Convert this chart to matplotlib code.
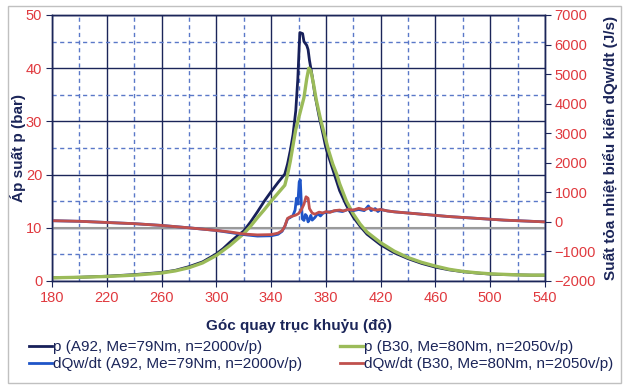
import matplotlib.pyplot as plt
from matplotlib.patches import Rectangle

plt.rcParams['font.family'] = ['Liberation Sans', 'DejaVu Sans']

# crank angle (deg) and pressure (bar)
theta_p_a92 = [180, 200, 220, 240, 260, 270, 280, 290, 300, 305, 310, 315, 320, 325,
               330, 335, 340, 345, 350, 352, 354, 356, 358, 359.5, 360.5, 361, 363,
               364, 366, 367, 368, 370, 372, 375, 378, 380, 385, 390, 395, 400, 405,
               410, 420, 430, 440, 450, 460, 470, 480, 490, 500, 510, 520, 530, 540]
p_a92 = [0.6, 0.7, 0.9, 1.2, 1.6, 2.0, 2.7, 3.6, 5.1, 6.1, 7.3, 8.4, 9.4, 11.1,
         13.0, 15.0, 16.8, 18.5, 20.1, 22.0, 24.5, 27.5, 32.0, 38.0, 44.0, 46.7, 46.5,
         45.0, 44.3, 43.5, 41.5, 38.5, 35.0, 31.0, 27.5, 25.0, 21.0, 17.0, 14.2, 12.0, 10.3,
         8.8, 6.8, 5.3, 4.2, 3.3, 2.6, 2.1, 1.75, 1.5, 1.3, 1.2, 1.15, 1.1, 1.1]

theta_p_b30 = [180, 200, 220, 240, 260, 270, 280, 290, 300, 310, 320, 325, 330, 335,
               340, 345, 350, 352, 354, 356, 358, 360, 362, 364, 366, 367.5, 369, 371,
               373, 376, 379, 382, 385, 388, 390, 395, 400, 405, 410, 420, 430, 440,
               450, 460, 470, 480, 490, 500, 510, 520, 530, 540]
p_b30 = [0.6, 0.7, 0.85, 1.1, 1.5, 1.9, 2.5, 3.4, 4.8, 6.7, 8.9, 10.3, 11.9, 13.4,
         15.0, 16.5, 18.0, 20.0, 22.5, 25.5, 28.5, 30.5, 32.5, 34.5, 38.0, 40.0, 39.5, 37.0,
         34.0, 30.5, 27.5, 24.5, 22.0, 20.0, 18.3, 15.0, 12.6, 10.7, 9.2, 7.2, 5.6, 4.4,
         3.5, 2.8, 2.2, 1.8, 1.55, 1.35, 1.25, 1.15, 1.1, 1.1]

# apparent heat release rate (J/s)
theta_q_a92 = [180, 200, 220, 240, 260, 280, 300, 310, 320, 330, 340, 345, 348, 350,
               352, 354, 356, 357.5, 358.5, 359.5, 360.5, 361.3, 362, 362.8, 364, 365,
               366, 367, 368, 369, 370, 372, 374, 376, 378, 380, 384, 388, 392, 396,
               400, 404, 408, 411, 413, 416, 418, 420, 425, 430, 440, 450, 460, 470,
               480, 490, 500, 510, 520, 530, 540]
q_a92 = [40, 20, -20, -60, -120, -200, -290, -360, -430, -480, -470, -420, -320, -150,
         100, 150, 220, 400, 800, 600, 1350, 1420, 700, 100, 50, 250,
         200, 0, 80, 220, 60, 150, 280, 200, 300, 320, 350, 380, 350, 420,
         380, 420, 380, 540, 380, 450, 350, 420, 370, 340, 300, 260, 220, 180,
         150, 120, 90, 60, 40, 20, 0]

theta_q_b30 = [180, 200, 220, 240, 260, 280, 300, 310, 320, 330, 340, 345, 348, 350,
               352, 354, 356, 358, 360, 362, 364, 365.5, 367, 368, 370, 372, 375, 378,
               380, 383, 386, 390, 393, 396, 400, 404, 408, 412, 416, 420, 425, 430,
               440, 450, 460, 470, 480, 490, 500, 510, 520, 530, 540]
q_b30 = [40, 20, -20, -60, -120, -200, -290, -340, -410, -440, -430, -380, -300, -150,
         120, 170, 200, 230, 280, 400, 600, 850, 800, 450, 300, 260, 330, 300,
         350, 320, 380, 400, 370, 420, 400, 460, 410, 470, 400, 420, 370, 340,
         300, 260, 220, 180, 150, 120, 90, 60, 40, 20, 0]

navy = '#1b2559'
tick_red = '#e0393e'

fig = plt.figure(figsize=(6.24, 3.85), dpi=100)
ax = fig.add_axes([52 / 624, 1 - 281 / 385, 493 / 624, 266 / 385])
ax2 = ax.twinx()

ax.set_xlim(180, 540)
ax.set_ylim(0, 50)
ax.set_xticks(range(180, 541, 40))
ax.set_xticks(range(200, 541, 40), minor=True)
ax.set_yticks(range(0, 51, 10))
ax.set_yticks(range(5, 50, 10), minor=True)
ax.grid(which='major', color=navy, lw=1.0, ls='-')
ax.grid(which='minor', color='#5a78c8', lw=1.0, ls=(0, (3, 2.5)))
ax.set_axisbelow(True)
ax.axhline(10, color='#9a9a9a', lw=1.5, zorder=1.5)

l1, = ax.plot(theta_p_a92, p_a92, color='#17205a', lw=2,
              label='p (A92, Me=79Nm, n=2000v/p)')
l2, = ax.plot(theta_p_b30, p_b30, color='#9bbb59', lw=2.4,
              label='p (B30, Me=80Nm, n=2050v/p)')

ax2.set_ylim(-2000, 7000)
ax2.set_yticks(range(-2000, 7001, 1000))
l3, = ax2.plot(theta_q_a92, q_a92, color='#1f55c8', lw=2,
               label='dQw/dt (A92, Me=79Nm, n=2000v/p)')
l4, = ax2.plot(theta_q_b30, q_b30, color='#c0504d', lw=2,
               label='dQw/dt (B30, Me=80Nm, n=2050v/p)')

for a in (ax, ax2):
    for s in a.spines.values():
        s.set_color(navy)
        s.set_linewidth(1)
    a.tick_params(which='major', colors=navy, labelcolor=tick_red, labelsize=10.5,
                  length=4, direction='out', pad=3)
    a.tick_params(which='minor', length=0)

ax.set_xlabel('Góc quay trục khuỷu (độ)', fontsize=11, fontweight='bold',
              color=navy, labelpad=10)
ax.set_ylabel('Áp suất p (bar)', fontsize=11, fontweight='bold', color=navy,
              labelpad=0)
ax2.set_ylabel('Suất tỏa nhiệt biểu kiến dQw/dt (J/s)', fontsize=11,
               fontweight='bold', color=navy, labelpad=5)

leg_kw = dict(frameon=False, fontsize=11, handlelength=1.5, handletextpad=0.1,
              labelspacing=0.22, borderpad=0, borderaxespad=0, loc='upper left',
              labelcolor=navy)
fig.legend(handles=[l1, l3], bbox_to_anchor=(29 / 624, 1 - 340 / 385), **leg_kw)
fig.legend(handles=[l2, l4], bbox_to_anchor=(340 / 624, 1 - 340 / 385), **leg_kw)

fig.patches.append(Rectangle((8 / 624, 2 / 385), 613 / 624, 377 / 385,
                             transform=fig.transFigure, fill=False,
                             edgecolor='#c0c0c0', lw=1))

fig.savefig('out.png', dpi=100)
